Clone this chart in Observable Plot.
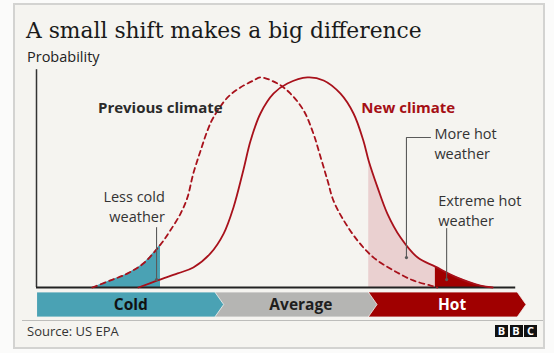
<!DOCTYPE html>
<html>
<head>
<meta charset="utf-8">
<script src="https://cdn.jsdelivr.net/npm/d3@7"></script>
<script src="https://cdn.jsdelivr.net/npm/@observablehq/plot@0.6"></script>
<style>
  html, body { margin: 0; padding: 0; background: #fbfbfa; }
  #wrap { position: relative; width: 554px; height: 353px; overflow: hidden; font-family: "Open Sans", sans-serif; }
  #card { position: absolute; left: 13px; top: 3px; width: 532px; height: 346px; box-sizing: border-box;
          border: 2px solid #d3d3d1; background: #f5f4f0; }
  .abs { position: absolute; white-space: nowrap; line-height: 1; }
  #title { left: 26px; top: 19.5px; font-family: "DejaVu Serif", serif; font-size: 21.8px; color: #1a1a1a; }
  #ylab { left: 27px; top: 50px; font-size: 14.5px; color: #222; }
  #sep { left: 22px; top: 320px; width: 521px; height: 0; border-top: 1.5px solid #bdbdbb; }
  #source { left: 27px; top: 325px; font-size: 13px; color: #333; }
  #bbc { left: 495px; top: 325px; display: flex; gap: 1.5px; }
  #bbc span { display: inline-block; width: 13px; height: 12px; background: #111; color: #fff; font-weight: 700;
              font-size: 11px; line-height: 12px; text-align: center; font-family: "Open Sans", sans-serif; }
  #main, #band { position: absolute; left: 0; }
  #main { top: 0; }
  #band { top: 292px; }
</style>
</head>
<body>
<div id="wrap">
  <div id="card"></div>
  <div class="abs" id="title">A small shift makes a big difference</div>
  <div class="abs" id="ylab">Probability</div>
  <div id="main"></div>
  <div id="band"></div>
  <div class="abs" id="sep"></div>
  <div class="abs" id="source">Source: US EPA</div>
  <div class="abs" id="bbc"><span>B</span><span>B</span><span>C</span></div>
</div>
<script>
// Temperature (0-100 arbitrary units) vs probability (0-100 arbitrary units)
const previousClimate = [[11.4,0],[15.1,3.2],[18.6,6.4],[21.8,10.9],[25.3,19.5],[27.3,25.9],[29.4,33.6],[30.8,40.9],[32.0,51.8],[33.5,62.3],[34.9,71.4],[36.1,77.3],[39.0,86.4],[41.6,90.9],[44.3,94.1],[45.7,95.5],[49.2,92.7],[51.8,88.2],[54.5,80.5],[56.5,70.0],[58.0,59.1],[59.4,48.6],[60.6,39.5],[62.7,30.5],[65.5,21.4],[68.8,13.6],[72.9,7.7],[76.9,3.2],[80.4,0.9],[81.8,0]];
const newClimate = [[20.8,0],[24.7,3.2],[28.8,6.4],[32.0,9.1],[35.5,15.5],[38.2,24.5],[40.2,36.4],[42.2,53.2],[43.7,66.8],[45.7,79.1],[48.4,88.2],[51.2,92.7],[55.3,95.5],[58.6,94.1],[62.0,88.2],[64.7,79.1],[66.7,66.8],[67.8,57.5],[69.6,45.5],[71.6,33.6],[74.3,22.7],[77.8,13.6],[81.4,9.5],[85.9,4.5],[90.6,0.9],[93.1,0]];

// Shaded thresholds (temperature units)
const lessColdEnd = 25.3;
const moreHotStart = 67.8;
const extremeHotStart = 81.4;

// Bands along the temperature axis
const bandLabels = ["Cold", "Average", "Hot"];
const bandEdges = [0.2, 36.5, 67.8, 98.2];
const bandColors = ["#4aa2b4", "#b5b5b3", "#a00000"];
const bandTextColors = ["#111", "#1e1e1e", "#ffffff"];

// Annotations
const leaders = [
  {id: "cold", pts: [[24.5, 27.3], [24.5, 3.6]]},
  {id: "hot", pts: [[75.5, 13.6], [75.5, 68.2], [80.4, 68.2]]},
  {id: "extreme", pts: [[83.7, 26.8], [83.7, 3.6]]}
];
const leaderDots = [[24.5, 3.6], [75.5, 13.6], [83.7, 3.6]];
const labels = [
  {lines: ["Less cold", "weather"], x: 26.2, y: 36.6, anchor: "end", color: "#333", weight: 400, size: 14.5},
  {lines: ["More hot", "weather"], x: 81.2, y: 65.0, anchor: "start", color: "#333", weight: 400, size: 14.5},
  {lines: ["Extreme hot", "weather"], x: 82.0, y: 34.6, anchor: "start", color: "#333", weight: 400, size: 14.5},
  {lines: ["Previous climate"], x: 38.0, y: 81.4, anchor: "end", color: "#2a2a2a", weight: 700, size: 15},
  {lines: ["New climate"], x: 66.3, y: 81.4, anchor: "start", color: "#a50f15", weight: 700, size: 15}
];
const lineGap = 19.8;

const curveColor = "#a8111b";
const curve = "catmull-rom";
const prevPts = previousClimate.map(([t, p]) => ({t, p}));
const newPts = newClimate.map(([t, p]) => ({t, p}));
const leaderRows = leaders.flatMap(l => l.pts.map(([t, p]) => ({id: l.id, t, p})));

const textMarks = labels.flatMap(l => l.lines.map((line, k) =>
  Plot.text([l], {x: "x", y: "y", text: () => line, textAnchor: l.anchor, fill: l.color,
    fontSize: l.size, fontWeight: l.weight, dy: (k - (l.lines.length - 1) / 2) * lineGap})));

const xScale = {domain: [0, 100], axis: null};
const W = 554, ML = 36, MR = 28;

const main = Plot.plot({
  width: W, height: 290,
  marginLeft: ML, marginRight: MR, marginTop: 67, marginBottom: 3,
  x: xScale,
  y: {domain: [0, 100], axis: null},
  style: {background: "transparent", fontFamily: "'Open Sans', sans-serif", overflow: "visible"},
  marks: [
    Plot.areaY(prevPts.filter(d => d.t <= lessColdEnd), {x: "t", y: "p", fill: "#4aa2b4", curve}),
    Plot.areaY(newPts.filter(d => d.t >= moreHotStart && d.t <= extremeHotStart), {x: "t", y: "p", fill: "#ead0d0", curve}),
    Plot.areaY(newPts.filter(d => d.t >= extremeHotStart), {x: "t", y: "p", fill: "#a00000", curve}),
    Plot.ruleX([0], {y1: 0, y2: 99, stroke: "#333", strokeWidth: 1.5}),
    Plot.ruleY([0], {x1: 0, x2: 97.8, stroke: "#222", strokeWidth: 2.2}),
    Plot.line(prevPts, {x: "t", y: "p", stroke: curveColor, strokeWidth: 1.8, strokeDasharray: "5,4", curve}),
    Plot.line(newPts, {x: "t", y: "p", stroke: curveColor, strokeWidth: 1.8, curve}),
    Plot.line(leaderRows, {x: "t", y: "p", z: "id", stroke: "#5a5a5a", strokeWidth: 1.1}),
    Plot.dot(leaderDots, {x: d => d[0], y: d => d[1], r: 1.6, fill: "#5a5a5a"}),
    ...textMarks
  ]
});
document.getElementById("main").appendChild(main);

const tip = 1.8;
const bandRows = [];
const bandText = [];
bandLabels.forEach((name, i) => {
  const s = bandEdges[i], e = bandEdges[i + 1];
  bandRows.push({name, x: s, y1: 0, y2: 1, c: bandColors[i]});
  bandRows.push({name, x: e, y1: 0, y2: 1, c: bandColors[i]});
  bandRows.push({name, x: e + tip, y1: 0.5, y2: 0.5, c: bandColors[i]});
  const notch = i === 0 ? s : bandEdges[i] + tip;
  bandText.push({name, x: (notch + e + tip) / 2, c: bandTextColors[i]});
});
const drawOrder = [...bandLabels].reverse();

const band = Plot.plot({
  width: W, height: 25,
  marginLeft: ML, marginRight: MR, marginTop: 0, marginBottom: 0,
  x: xScale,
  y: {domain: [0, 1], axis: null},
  color: {type: "identity"},
  style: {background: "transparent", fontFamily: "'Open Sans', sans-serif", overflow: "visible"},
  marks: [
    ...drawOrder.map(n => Plot.area(bandRows.filter(d => d.name === n), {x1: "x", y1: "y1", y2: "y2", fill: "c", stroke: "#f5f4f0", strokeWidth: 0.8})),
    Plot.text(bandText, {x: "x", y: 0.5, text: "name", fill: "c", fontSize: 15.5, fontWeight: 700})
  ]
});
document.getElementById("band").appendChild(band);
</script>
</body>
</html>
